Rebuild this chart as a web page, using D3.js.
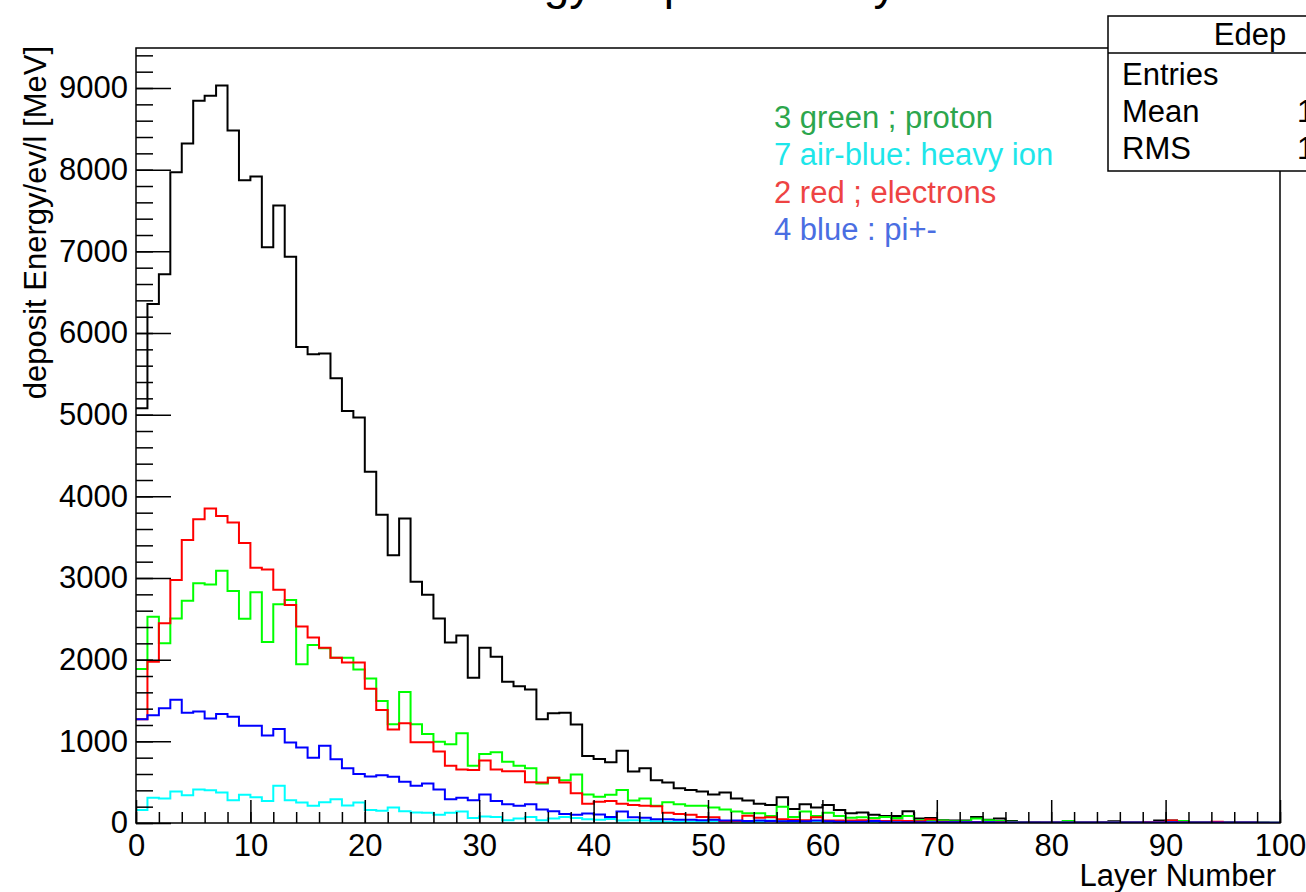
<!DOCTYPE html>
<html>
<head>
<meta charset="utf-8">
<script src="https://cdn.jsdelivr.net/npm/d3@7"></script>
<style>
  html, body { margin: 0; padding: 0; background: #fff; }
  svg { display: block; }
  text { font-family: "Liberation Sans", Arial, Helvetica, sans-serif; }
</style>
</head>
<body>
<svg id="chart" width="1306" height="892"></svg>
<script>
// Layer numbers 0..99 (one bin per layer)
const layers = d3.range(0, 100);

// Total deposited energy per layer [MeV]
const totalEdep = [
  5080, 6355, 6720, 7970, 8320, 8845, 8905, 9030, 8480, 7870,
  7915, 7050, 7560, 6935, 5830, 5740, 5750, 5445, 5045, 4965,
  4300, 3775, 3280, 3730, 2955, 2795, 2505, 2210, 2295, 1780,
  2145, 2035, 1730, 1675, 1635, 1270, 1345, 1350, 1205, 820,
  785, 745, 885, 630, 670, 525, 495, 425, 405, 385,
  350, 375, 300, 275, 235, 220, 315, 170, 230, 190,
  220, 160, 120, 130, 100, 85, 85, 145, 55, 60,
  35, 30, 30, 75, 40, 55, 25, 10, 8, 5,
  5, 10, 5, 5, 8, 20, 5, 5, 5, 30,
  30, 10, 5, 5, 8, 5, 5, 5, 5, 3
];

// Protons (colour 3, green)
const protonEdep = [
  1885, 2525, 2200, 2505, 2720, 2935, 2920, 3090, 2840, 2500,
  2825, 2215, 2680, 2730, 1945, 2180, 2140, 2025, 2025, 1880,
  1770, 1495, 1210, 1605, 1210, 1090, 995, 965, 1100, 700,
  845, 865, 750, 700, 670, 485, 555, 525, 595, 350,
  320, 345, 405, 275, 300, 210, 255, 230, 210, 210,
  190, 165, 140, 120, 120, 85, 200, 75, 140, 85,
  125, 85, 65, 70, 60, 75, 60, 85, 35, 35,
  30, 20, 20, 55, 35, 25, 15, 8, 5, 5,
  5, 25, 5, 5, 5, 8, 5, 5, 5, 8,
  10, 25, 5, 5, 5, 8, 5, 5, 3, 3
];

// Heavy ions (colour 7, cyan)
const heavyIonEdep = [
  160, 310, 300, 385, 340, 410, 400, 375, 280, 345,
  315, 270, 455, 280, 250, 210, 255, 290, 215, 250,
  160, 150, 190, 145, 130, 125, 100, 125, 140, 60,
  80, 75, 35, 55, 75, 35, 55, 75, 60, 45,
  40, 50, 30, 35, 30, 20, 15, 15, 15, 15,
  20, 15, 15, 10, 15, 30, 20, 15, 20, 25,
  15, 10, 15, 15, 10, 10, 30, 10, 8, 5,
  5, 5, 5, 5, 5, 5, 3, 3, 3, 3,
  3, 3, 3, 3, 3, 3, 3, 3, 3, 5,
  3, 3, 3, 3, 3, 3, 3, 3, 3, 3
];

// Electrons (colour 2, red)
const electronEdep = [
  1270, 1975, 2445, 2975, 3465, 3720, 3850, 3760, 3680, 3430,
  3125, 3105, 2855, 2670, 2405, 2270, 2145, 2025, 1965, 1965,
  1645, 1385, 1145, 1220, 990, 990, 875, 700, 655, 650,
  765, 655, 635, 635, 500, 495, 555, 495, 365, 235,
  260, 270, 235, 220, 210, 205, 125, 110, 100, 75,
  70, 20, 25, 90, 65, 70, 45, 40, 35, 70,
  30, 30, 30, 35, 30, 25, 30, 25, 20, 45,
  15, 10, 10, 12, 8, 10, 5, 5, 5, 5,
  5, 5, 5, 5, 5, 5, 5, 5, 8, 10,
  30, 10, 5, 5, 15, 5, 5, 5, 3, 3
];

// Charged pions (colour 4, blue)
const pionEdep = [
  1270, 1320, 1405, 1510, 1350, 1365, 1280, 1335, 1300, 1190,
  1190, 1070, 1150, 985, 925, 800, 945, 780, 670, 600,
  570, 585, 565, 505, 455, 485, 410, 290, 310, 280,
  350, 270, 230, 210, 230, 165, 145, 110, 100, 115,
  105, 75, 140, 70, 65, 45, 45, 40, 40, 35,
  40, 30, 30, 25, 30, 25, 20, 25, 20, 30,
  20, 15, 15, 15, 25, 15, 10, 10, 10, 10,
  10, 8, 8, 8, 8, 5, 5, 5, 5, 5,
  5, 5, 5, 5, 5, 5, 5, 5, 5, 5,
  8, 5, 5, 5, 5, 5, 5, 5, 3, 3
];

// Axis ticks
const xMajorTicks = d3.range(0, 101, 10);
const xMinorTicks = d3.range(0, 101, 2);
const yMajorTicks = d3.range(0, 9001, 1000);
const yMinorTicks = d3.range(0, 9401, 200);

// Legend lines and stats box
const legendLines = [
  "3 green ; proton",
  "7 air-blue: heavy ion",
  "2 red ; electrons",
  "4 blue : pi+-"
];
const statsLabels = ["Entries", "Mean", "RMS"];
const statsValues = ["", "15.21", "12.47"];

// ---------------------------------------------------------------
const svg = d3.select("#chart");
const FONT = 31;
const plot = { left: 136, right: 1280, top: 48, bottom: 823 };

const x = d3.scaleLinear().domain([0, 100]).range([plot.left, plot.right]);
const y = d3.scaleLinear().domain([0, 9490]).range([plot.bottom, plot.top]);

// Title (sits mostly above the canvas)
svg.append("text")
  .attr("x", 692).attr("y", -1)
  .attr("text-anchor", "middle")
  .attr("font-size", 46)
  .text("Energy Deposit in Layer");

svg.append("defs").append("clipPath").attr("id", "plotclip")
  .append("rect")
  .attr("x", plot.left).attr("y", plot.top)
  .attr("width", plot.right - plot.left).attr("height", plot.bottom - plot.top);

// Histogram outlines
const series = [
  { values: totalEdep, color: "#000000" },
  { values: protonEdep, color: "#00ff00" },
  { values: heavyIonEdep, color: "#00ffff" },
  { values: electronEdep, color: "#ff0000" },
  { values: pionEdep, color: "#0000ff" }
];

const step = d3.line()
  .x(d => x(d[0]))
  .y(d => y(d[1]))
  .curve(d3.curveStepAfter);

const gHist = svg.append("g").attr("clip-path", "url(#plotclip)");
series.forEach(s => {
  const pts = layers.map((l, i) => [l, s.values[i]]);
  pts.push([layers[layers.length - 1] + 1, s.values[s.values.length - 1]]);
  gHist.append("path")
    .attr("d", step(pts))
    .attr("fill", "none")
    .attr("stroke", s.color)
    .attr("stroke-width", 2);
});

// Y axis ticks (pointing into the frame)
const yMinor = svg.append("g").attr("transform", `translate(${plot.left},0)`)
  .call(d3.axisLeft(y).tickValues(yMinorTicks).tickSize(-17).tickFormat(""));
yMinor.select(".domain").remove();

const yMajor = svg.append("g").attr("transform", `translate(${plot.left},0)`)
  .call(d3.axisLeft(y).tickValues(yMajorTicks).tickSize(-35).tickPadding(8).tickFormat(d3.format("d")));
yMajor.select(".domain").remove();
yMajor.selectAll("text").attr("font-size", FONT).attr("fill", "#000")
  .attr("font-family", "'Liberation Sans', Arial, Helvetica, sans-serif");

// X axis ticks (pointing up into the frame)
const xMinor = svg.append("g").attr("transform", `translate(0,${plot.bottom})`)
  .call(d3.axisBottom(x).tickValues(xMinorTicks).tickSize(-11).tickFormat(""));
xMinor.select(".domain").remove();

const xMajor = svg.append("g").attr("transform", `translate(0,${plot.bottom})`)
  .call(d3.axisBottom(x).tickValues(xMajorTicks).tickSize(-23).tickPadding(11).tickFormat(d3.format("d")));
xMajor.select(".domain").remove();
xMajor.selectAll("text").attr("font-size", FONT).attr("fill", "#000")
  .attr("font-family", "'Liberation Sans', Arial, Helvetica, sans-serif");

svg.selectAll(".tick line").attr("stroke", "#000").attr("stroke-width", 1.5);

// Frame
svg.append("rect")
  .attr("x", plot.left).attr("y", plot.top)
  .attr("width", plot.right - plot.left).attr("height", plot.bottom - plot.top)
  .attr("fill", "none").attr("stroke", "#000").attr("stroke-width", 1.5);

// Axis titles
svg.append("text")
  .attr("transform", "translate(46,46) rotate(-90)")
  .attr("text-anchor", "end")
  .attr("font-size", FONT)
  .text("deposit Energy/ev/l [MeV]");

svg.append("text")
  .attr("x", 1276).attr("y", 886)
  .attr("text-anchor", "end")
  .attr("font-size", FONT)
  .text("Layer Number");

// Legend text
const legendColors = ["#2ca64c", "#1ee6ea", "#ee4343", "#4a6ee2"];
svg.append("g").selectAll("text")
  .data(legendLines)
  .join("text")
  .attr("x", 774)
  .attr("y", (d, i) => 128 + i * 37.3)
  .attr("font-size", FONT)
  .attr("fill", (d, i) => legendColors[i])
  .text(d => d);

// Statistics box
const stats = svg.append("g");
stats.append("rect")
  .attr("x", 1108).attr("y", 16)
  .attr("width", 240).attr("height", 155)
  .attr("fill", "#fff").attr("stroke", "#000").attr("stroke-width", 1.5);
stats.append("line")
  .attr("x1", 1108).attr("x2", 1348).attr("y1", 53).attr("y2", 53)
  .attr("stroke", "#000").attr("stroke-width", 1.5);
stats.append("text")
  .attr("x", 1250).attr("y", 45)
  .attr("text-anchor", "middle")
  .attr("font-size", FONT)
  .text("Edep");
stats.selectAll("text.lab")
  .data(statsLabels)
  .join("text").attr("class", "lab")
  .attr("x", 1122)
  .attr("y", (d, i) => 85 + i * 37)
  .attr("font-size", FONT)
  .text(d => d);
stats.selectAll("text.val")
  .data(statsValues)
  .join("text").attr("class", "val")
  .attr("x", 1297)
  .attr("y", (d, i) => 85 + i * 37)
  .attr("font-size", FONT)
  .text(d => d);
</script>
</body>
</html>
